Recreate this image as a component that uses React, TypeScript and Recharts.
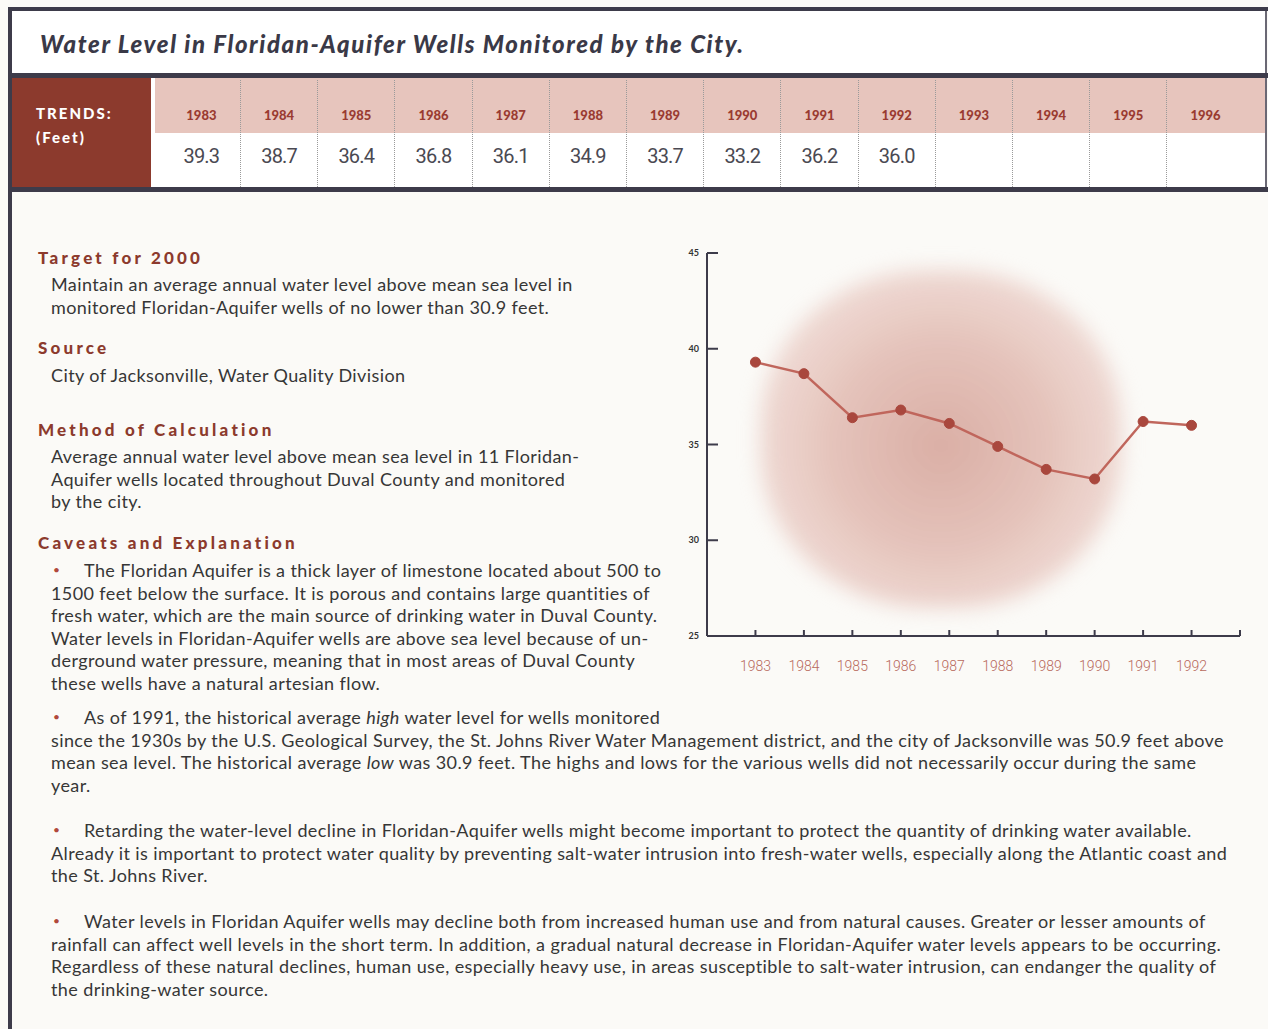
import React from 'react';
import { LineChart, Line, XAxis, YAxis } from 'recharts';

// chart data
const years = [1983, 1984, 1985, 1986, 1987, 1988, 1989, 1990, 1991, 1992];
const waterLevels = [39.3, 38.7, 36.4, 36.8, 36.1, 34.9, 33.7, 33.2, 36.2, 36.0];
const yTicks = [25, 30, 35, 40, 45];
const axisEndYear = 1993;

// trends table
const trendYears = [1983, 1984, 1985, 1986, 1987, 1988, 1989, 1990, 1991, 1992, 1993, 1994, 1995, 1996];

const AXIS = '#3d3b4a';
const BRICK = '#8c3a2d';
const TEXT = '#363636';
const X_TICK_SIZE = 6;
const X_TICK_MARGIN = 19;
const Y_TICK_SIZE = 6;
const Y_TICK_MARGIN = 1;

const body: React.CSSProperties = { fontFamily: 'Lato, sans-serif', fontSize: 18, letterSpacing: 0.4, color: TEXT, whiteSpace: 'nowrap' };
const LH = 22.6;

const XTick = (props: any) => {
  const { x, y, payload } = props;
  const axisY = y - X_TICK_SIZE - X_TICK_MARGIN;
  return (
    <g>
      <line x1={x} x2={x} y1={axisY} y2={axisY - 6} stroke={AXIS} strokeWidth={2} />
      {payload.value < axisEndYear && (
        <text x={x} y={y} dy="0.71em" textAnchor="middle" fill="#b8695c" fontSize={14} fontFamily="Roboto, sans-serif" fontWeight={300}>
          {payload.value}
        </text>
      )}
    </g>
  );
};

const YTick = (props: any) => {
  const { x, y, payload } = props;
  const axisX = x + Y_TICK_SIZE + Y_TICK_MARGIN;
  return (
    <g>
      <line x1={axisX} x2={axisX + 11} y1={y} y2={y} stroke={AXIS} strokeWidth={2} />
      <text x={axisX - 8} y={y} dy="0.35em" textAnchor="end" fill="#333" fontSize={9} fontWeight={700} fontFamily="Lato, sans-serif">
        {payload.value}
      </text>
    </g>
  );
};

const Heading = ({ top, children }: { top: number; children: React.ReactNode }) => (
  <div style={{ position: 'absolute', left: 38, top, fontFamily: 'Lato, sans-serif', fontWeight: 900, fontSize: 17, letterSpacing: 3.2, color: BRICK, whiteSpace: 'nowrap' }}>
    {children}
  </div>
);

const Lines = ({ top, left = 51, lines }: { top: number; left?: number; lines: React.ReactNode[] }) => (
  <div style={{ position: 'absolute', left, top, ...body, lineHeight: `${LH}px` }}>
    {lines.map((l, i) => (
      <div key={i} style={{ height: LH }}>{l}</div>
    ))}
  </div>
);

const Bullet = () => (
  <span style={{ display: 'inline-block', width: 33, height: LH, position: 'relative', verticalAlign: 'top' }}>
    <span style={{ position: 'absolute', left: 2, top: 0, fontSize: 12, lineHeight: `${LH}px`, color: '#b0493b' }}>•</span>
  </span>
);

export default function App() {
  const data = years.map((y, i) => ({ year: y, level: waterLevels[i] }));
  const xTicks = [...years, axisEndYear];

  return (
    <div style={{ position: 'absolute', left: 0, top: 0, width: 1268, height: 1029, background: '#fbfaf7', overflow: 'hidden' }}>
      {/* frame */}
      <div style={{ position: 'absolute', left: 8, top: 7, width: 1260, height: 4, background: AXIS }} />
      <div style={{ position: 'absolute', left: 8, top: 7, width: 4, height: 1022, background: AXIS }} />
      <div style={{ position: 'absolute', left: 12, top: 11, width: 1253, height: 62, background: '#fff' }} />
      <div style={{ position: 'absolute', left: 1265, top: 11, width: 2, height: 180, background: '#6a6874' }} />
      <div
        style={{
          position: 'absolute', left: 40, top: 29, fontFamily: 'Lato, sans-serif', fontWeight: 900, fontStyle: 'italic',
          fontSize: 24, letterSpacing: 1.6, color: '#3a3947', whiteSpace: 'nowrap',
        }}
      >
        Water Level in Floridan-Aquifer Wells Monitored by the City.
      </div>
      <div style={{ position: 'absolute', left: 12, top: 73, width: 1256, height: 5, background: AXIS }} />
      <div style={{ position: 'absolute', left: 12, top: 187, width: 1256, height: 5, background: AXIS }} />

      {/* trends box */}
      <div style={{ position: 'absolute', left: 12, top: 78, width: 139, height: 109, background: BRICK }} />
      <div style={{ position: 'absolute', left: 151, top: 78, width: 4, height: 109, background: '#fff' }} />
      <div style={{ position: 'absolute', left: 36, top: 101, color: '#fff', fontFamily: 'Lato, sans-serif', fontWeight: 900, fontSize: 15, letterSpacing: 2, lineHeight: '24px' }}>
        <div>TRENDS:</div>
        <div>(Feet)</div>
      </div>
      <div style={{ position: 'absolute', left: 155, top: 78, width: 1110, height: 55, background: '#e7c5bd' }} />
      <div style={{ position: 'absolute', left: 155, top: 133, width: 1110, height: 54, background: '#fff' }} />
      {trendYears.map((ty, i) => {
        const v = years.indexOf(ty) >= 0 ? waterLevels[years.indexOf(ty)] : null;
        return (
          <div
            key={ty}
            style={{
              position: 'absolute', left: 162.8 + i * 77.2, top: 80, width: 77.2, height: 107,
              borderLeft: i === 0 ? 'none' : '1px dotted #9a9a9a', boxSizing: 'border-box', textAlign: 'center',
            }}
          >
            <div style={{ marginTop: 27, fontFamily: 'Lato, sans-serif', fontWeight: 900, fontSize: 13, color: '#9a3b31', height: 18 }}>{ty}</div>
            <div style={{ marginTop: 19, fontFamily: 'Roboto, sans-serif', fontSize: 20, color: '#4a4952', letterSpacing: -0.8 }}>
              {v !== null ? v.toFixed(1) : ''}
            </div>
          </div>
        );
      })}

      {/* left text column */}
      <Heading top={247}>Target for 2000</Heading>
      <Lines top={273} lines={['Maintain an average annual water level above mean sea level in', 'monitored Floridan-Aquifer wells of no lower than 30.9 feet.']} />
      <Heading top={337}>Source</Heading>
      <Lines top={364} lines={['City of Jacksonville, Water Quality Division']} />
      <Heading top={419}>Method of Calculation</Heading>
      <Lines
        top={445}
        lines={[
          'Average annual water level above mean sea level in 11 Floridan-',
          'Aquifer wells located throughout Duval County and monitored',
          'by the city.',
        ]}
      />
      <Heading top={532}>Caveats and Explanation</Heading>
      <Lines
        top={559}
        lines={[
          <><Bullet />The Floridan Aquifer is a thick layer of limestone located about 500 to</>,
          '1500 feet below the surface. It is porous and contains large quantities of',
          'fresh water, which are the main source of drinking water in Duval County.',
          'Water levels in Floridan-Aquifer wells are above sea level because of un-',
          'derground water pressure, meaning that in most areas of Duval County',
          'these wells have a natural artesian flow.',
        ]}
      />
      <Lines
        top={706}
        lines={[
          <><Bullet />As of 1991, the historical average <i>high</i> water level for wells monitored</>,
          'since the 1930s by the U.S. Geological Survey, the St. Johns River Water Management district, and the city of Jacksonville was 50.9 feet above',
          <>mean sea level. The historical average <i>low</i> was 30.9 feet. The highs and lows for the various wells did not necessarily occur during the same</>,
          'year.',
        ]}
      />
      <Lines
        top={819}
        lines={[
          <><Bullet />Retarding the water-level decline in Floridan-Aquifer wells might become important to protect the quantity of drinking water available.</>,
          'Already it is important to protect water quality by preventing salt-water intrusion into fresh-water wells, especially along the Atlantic coast and',
          'the St. Johns River.',
        ]}
      />
      <Lines
        top={910}
        lines={[
          <><Bullet />Water levels in Floridan Aquifer wells may decline both from increased human use and from natural causes. Greater or lesser  amounts of</>,
          'rainfall can affect well levels in the short term. In addition, a gradual natural decrease in Floridan-Aquifer water levels appears to be occurring.',
          'Regardless of these natural declines, human use, especially heavy use, in areas susceptible to salt-water intrusion, can endanger the quality of',
          'the drinking-water source.',
        ]}
      />

      {/* soft backdrop behind the line */}
      <div
        style={{
          position: 'absolute', left: 760, top: 270, width: 362, height: 338, borderRadius: '46%',
          filter: 'blur(10px)',
          background:
            'radial-gradient(ellipse at 50% 52%, rgba(216,170,160,0.95) 0%, rgba(225,187,178,0.9) 40%, rgba(235,208,201,0.8) 70%, rgba(244,229,225,0.6) 90%, rgba(251,250,247,0.2) 100%)',
        }}
      />

      <div style={{ position: 'absolute', left: 660, top: 240 }}>
        <LineChart width={600} height={450} data={data} margin={{ top: 13, right: 20, left: 0, bottom: 14 }}>
          <XAxis
            dataKey="year"
            type="number"
            domain={[1982, axisEndYear]}
            ticks={xTicks}
            interval={0}
            height={40}
            tickSize={X_TICK_SIZE}
            tickMargin={X_TICK_MARGIN}
            tickLine={false}
            axisLine={{ stroke: AXIS, strokeWidth: 2 }}
            tick={<XTick />}
          />
          <YAxis
            domain={[25, 45]}
            ticks={yTicks}
            interval={0}
            width={47}
            tickSize={Y_TICK_SIZE}
            tickMargin={Y_TICK_MARGIN}
            tickLine={false}
            axisLine={{ stroke: AXIS, strokeWidth: 2 }}
            tick={<YTick />}
          />
          <Line
            type="linear"
            dataKey="level"
            stroke="#c0665c"
            strokeWidth={2.5}
            dot={{ r: 5, fill: '#a9473d', stroke: '#a9473d', strokeWidth: 1 }}
            isAnimationActive={false}
          />
        </LineChart>
      </div>
    </div>
  );
}
